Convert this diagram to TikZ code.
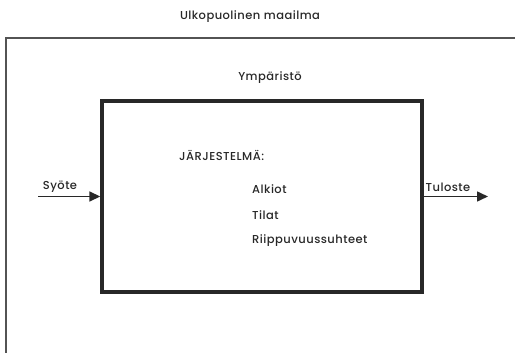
\documentclass[tikz,border=0pt]{standalone}
\usepackage{fontspec}
\setmainfont{Poppins}[LetterSpace=4, UprightFont=* Medium]
\usepackage{tikz}
\usetikzlibrary{arrows.meta, positioning}
\definecolor{inkgray}{RGB}{40,40,40}

\begin{document}
\begin{tikzpicture}[x=1pt, y=-1pt,
  frame/.style={draw=inkgray!80, line width=2pt},
  sysbox/.style={rectangle, draw=inkgray, line width=3.4pt, minimum width=320pt,
                 minimum height=191pt, inner sep=0pt},
  lbl/.style={font=\fontsize{11.5}{13}\selectfont, text=inkgray, inner sep=1pt},
  arr/.style={-{Triangle[length=11pt, width=10pt]}, line width=1.6pt, color=inkgray}
]
  \useasboundingbox (0,0) rectangle (515,353);
  % outer world, only two edges inside the page
  \draw[frame] (6,353) -- (6,38) -- (515,38);
  \node[lbl] (world) at (250,17) {Ulkopuolinen maailma};
  \node[lbl] (env)   at (270,78) {Ympäristö};
  \node[sysbox] (sys) at (262,196.5) {};
  \node[lbl, anchor=west] (title) at (178,155) {JÄRJESTELMÄ:};
  \node[lbl, anchor=west] (elem)  at (251,189) {Alkiot};
  \node[lbl, anchor=west] (state) at (251,215) {Tilat};
  \node[lbl, anchor=west] (dep)   at (251,241) {Riippuvuussuhteet};
  \coordinate (in)  at (38,196.5);
  \coordinate (out) at (488,196.5);
  \draw[arr] (in) -- (sys.west);
  \draw[arr] (sys.east) -- (out);
  \node[lbl] (inlbl)  at (60,187)  {Syöte};
  \node[lbl] (outlbl) at (448,187) {Tuloste};
\end{tikzpicture}
\end{document}
